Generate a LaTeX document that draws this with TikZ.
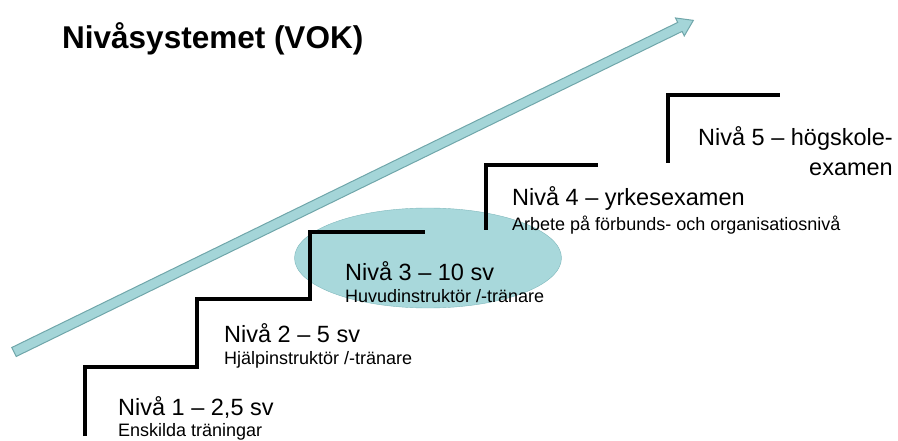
\documentclass[tikz,border=0pt]{standalone}
\usepackage{fontspec}
\setmainfont{Liberation Sans}
\usepackage{tikz}
\usetikzlibrary{arrows,positioning,shapes}
\definecolor{aqua}{RGB}{164,213,216}
\definecolor{aquaedge}{RGB}{112,166,170}
\definecolor{ovalfill}{RGB}{168,216,219}
\definecolor{ovaledge}{RGB}{128,184,188}

\begin{document}
\begin{tikzpicture}[x=1pt, y=-1pt, stair/.style={line width=4pt}, level node/.style={anchor=base west,inner sep=0pt,font=\fontsize{23.5}{30}\selectfont}, note node/.style={anchor=base west,inner sep=0pt,font=\fontsize{18}{22}\selectfont}]
\useasboundingbox (0,0) rectangle (898,441);
% the long arrow
\begin{scope}[shift={(14,352)}, rotate=26.02]
\filldraw[fill=aqua, draw=aquaedge, line width=1pt] (0,-5) -- (741,-5) -- (741,-10) -- (756,0) -- (741,10) -- (741,5) -- (0,5) -- cycle;
\end{scope}
\node[ellipse, fill=ovalfill, draw=ovaledge, minimum width=267pt, minimum height=100pt] (oval) at (428,258) {};
\begin{scope}
\draw[stair] (85,436) -- (85,367) -- (197,367) -- (197,299) -- (310,299) -- (310,232) -- (425,232);
\draw[stair] (486,230) -- (486,165) -- (598,165);
\draw[stair] (668,163) -- (668,95) -- (780,95);
\end{scope}
\node[anchor=base west, inner sep=0pt, font=\fontsize{31.5}{36}\selectfont\bfseries] (title) at (62,49) {Nivåsystemet (VOK)};
\begin{scope}
\node[level node] (n1) at (118,415) {Nivå 1 – 2,5 sv};
\node[note node] (d1) at (118,436) {Enskilda träningar};
\node[level node] (n2) at (224,342) {Nivå 2 – 5 sv};
\node[note node] (d2) at (224,364) {Hjälpinstruktör /-tränare};
\node[level node] (n3) at (345,280) {Nivå 3 – 10 sv};
\node[note node] (d3) at (345,302) {Huvudinstruktör /-tränare};
\node[level node] (n4) at (512,206) {Nivå 4 – yrkesexamen};
\node[note node] (d4) at (512,230) {Arbete på förbunds- och organisatiosnivå};
\node[level node, align=right, anchor=north east] (n5) at (893,126) {Nivå 5 – högskole-\\examen};
\end{scope}
\end{tikzpicture}
\end{document}
